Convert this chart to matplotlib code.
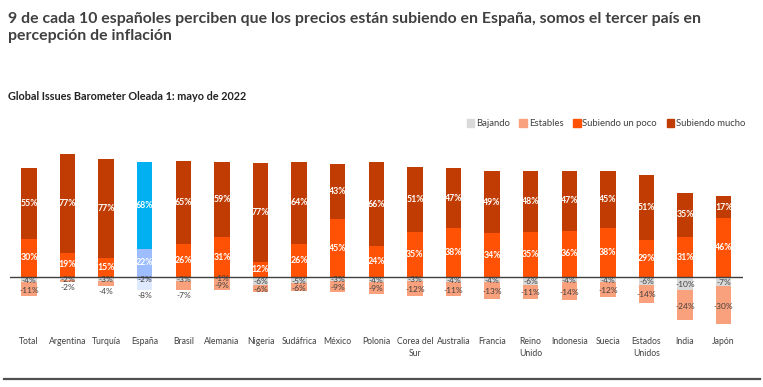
import matplotlib
matplotlib.use('Agg')
import matplotlib.pyplot as plt
from matplotlib.patches import Patch
from matplotlib.lines import Line2D
import numpy as np

plt.rcParams['font.family'] = ['Lato', 'DejaVu Sans']

countries = ['Total', 'Argentina', 'Turquía', 'España', 'Brasil', 'Alemania', 'Nigeria',
             'Sudáfrica', 'México', 'Polonia', 'Corea del\nSur', 'Australia', 'Francia',
             'Reino\nUnido', 'Indonesia', 'Suecia', 'Estados\nUnidos', 'India', 'Japón']
subiendo_mucho = [55, 77, 77, 68, 65, 59, 77, 64, 43, 66, 51, 47, 49, 48, 47, 45, 51, 35, 17]
subiendo_poco = [30, 19, 15, 22, 26, 31, 12, 26, 45, 24, 35, 38, 34, 35, 36, 38, 29, 31, 46]
bajando = [4, 2, 3, 2, 3, 1, 6, 5, 3, 4, 3, 4, 4, 6, 4, 4, 6, 10, 7]
estables = [11, 2, 4, 8, 7, 9, 6, 6, 9, 9, 12, 11, 13, 11, 14, 12, 14, 24, 30]
labels_below = ['Argentina', 'Turquía', 'España', 'Brasil']

c_mucho = '#c03c02'
c_poco = '#ff5204'
c_est = '#f9a07c'
c_baj = '#d9d9d9'
es_mucho = '#00b0f0'
es_poco = '#9dbdff'
es_baj = '#c6d8fc'
es_est = '#e0eafe'
txt = '#404040'

fig = plt.figure(figsize=(7.63, 3.87), dpi=100)
fig.text(0.0105, 0.968, '9 de cada 10 españoles perciben que los precios están subiendo en España, somos el tercer país en\npercepción de inflación',
         fontsize=11.45, fontweight='bold', color=txt, va='top', linespacing=1.25)
fig.text(0.0105, 0.75, 'Global Issues Barometer Oleada 1: mayo de 2022', fontsize=7.8, fontweight='bold', color='#222222', va='center')

ax = fig.add_axes([0.0127, 0.152, 0.961, 0.463])
x = np.arange(len(countries))
w = 0.4
is_es = [c == 'España' for c in countries]
col_m = [es_mucho if e else c_mucho for e in is_es]
col_p = [es_poco if e else c_poco for e in is_es]
col_b = [es_baj if e else c_baj for e in is_es]
col_e = [es_est if e else c_est for e in is_es]

poco = np.array(subiendo_poco)
mucho = np.array(subiendo_mucho)
baj = -np.array(bajando)
est = -np.array(estables)
ax.bar(x, poco, w, color=col_p)
ax.bar(x, mucho, w, bottom=poco, color=col_m)
ax.bar(x, baj, w, color=col_b)
ax.bar(x, est, w, bottom=baj, color=col_e)
ax.axhline(0, color='#404040', lw=1)

for i, c in enumerate(countries):
    ax.text(x[i], poco[i] / 2, f'{poco[i]}%', ha='center', va='center', fontsize=6.3, color='white', fontweight='bold')
    ax.text(x[i], poco[i] + mucho[i] / 2, f'{mucho[i]}%', ha='center', va='center', fontsize=6.3, color='white', fontweight='bold')
    ax.text(x[i], baj[i] / 2 - 0.8, f'{baj[i]}%', ha='center', va='center', fontsize=6, color=txt)
    if c in labels_below:
        ax.text(x[i], baj[i] + est[i] - 1.5, f'{est[i]}%', ha='center', va='top', fontsize=6, color=txt)
    else:
        ax.text(x[i], baj[i] + est[i] / 2 - 0.8, f'{est[i]}%', ha='center', va='center', fontsize=6, color=txt)

ax.set_xlim(-0.5, len(countries) - 0.5)
ax.set_ylim(-40, 100)
ax.set_yticks([])
ax.set_xticks(x)
ax.set_xticklabels(countries, fontsize=6.2, color=txt, linespacing=1.5, va='top')
ax.tick_params(axis='x', length=0, pad=6)
for s in ax.spines.values():
    s.set_visible(False)

handles = [Patch(color=c_baj), Patch(color=c_est), Patch(color=c_poco), Patch(color=c_mucho)]
fig.legend(handles, ['Bajando', 'Estables', 'Subiendo un poco', 'Subiendo mucho'], ncol=4,
           loc='center right', bbox_to_anchor=(0.988, 0.68), frameon=False, fontsize=6.8,
           handlelength=0.8, handleheight=0.8, handletextpad=0.2, columnspacing=1.0, labelcolor=txt)

fig.add_artist(Line2D([0.005, 0.996], [0.021, 0.021], transform=fig.transFigure, color='#505050', lw=1.6))

fig.savefig('out.png', dpi=100, facecolor='white')
